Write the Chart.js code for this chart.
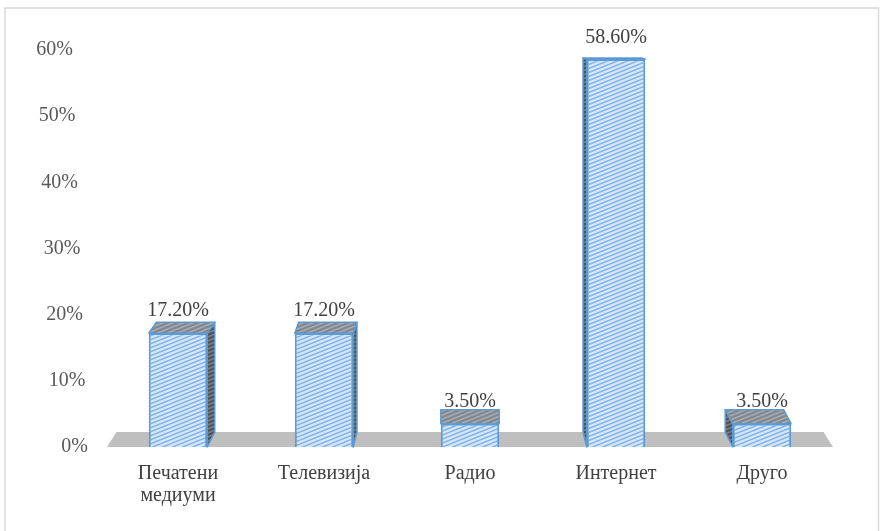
<!DOCTYPE html>
<html>
<head>
<meta charset="utf-8">
<script src="https://cdn.jsdelivr.net/npm/chart.js@4.4.1/dist/chart.umd.min.js"></script>
<style>
  html, body { margin: 0; padding: 0; background: #ffffff; }
  #wrap { width: 880px; height: 531px; position: relative; }
</style>
</head>
<body>
<div id="wrap"><canvas id="c" width="880" height="531"></canvas></div>
<script>
const categories = [['Печатени', 'медиуми'], 'Телевизија', 'Радио', 'Интернет', 'Друго'];
const values = [17.2, 17.2, 3.5, 58.6, 3.5];
const valueLabels = ['17.20%', '17.20%', '3.50%', '58.60%', '3.50%'];
const yTickValues = [0, 10, 20, 30, 40, 50, 60];

function makePattern(bg, line, w, h) {
  const c = document.createElement('canvas');
  c.width = w; c.height = h;
  const g = c.getContext('2d');
  g.fillStyle = bg; g.fillRect(0, 0, w, h);
  g.strokeStyle = line; g.lineWidth = 1.5;
  for (let k = -h; k <= h; k += h) {
    g.beginPath(); g.moveTo(0, h + k); g.lineTo(w, k); g.stroke();
  }
  return g.createPattern(c, 'repeat');
}

const frontPat = makePattern('#d6e7fa', '#7fb1e7', 10, 4);
const sidePat = makePattern('#4e535a', '#7d848d', 10, 4);
const topPat = makePattern('#83878d', '#a9aeb5', 10, 4);

const serif = "'Liberation Serif', 'Times New Roman', serif";
const FS = 20;

const depthPlugin = {
  id: 'depth',
  beforeDraw(chart) {
    const c = chart.ctx;
    c.save();
    c.strokeStyle = '#d9d9d9';
    c.lineWidth = 1.5;
    c.strokeRect(5, 8, 873.5, 530);
    c.restore();
  },
  beforeDatasetsDraw(chart) {
    const c = chart.ctx;
    const a = chart.chartArea;
    const vpX = (a.left + a.right) / 2;
    const vpY = a.top - 30;
    const kx = 0.026, ky = 0.035;
    const dxOf = x => (vpX - x) * kx;
    const dyOf = y => -(y - vpY) * ky;
    const base = chart.scales.y.getPixelForValue(0);
    const fl = a.left + 2, fr = a.right - 2;
    c.save();
    c.fillStyle = '#bfbfbf';
    c.beginPath();
    c.moveTo(fl, base);
    c.lineTo(fr, base);
    c.lineTo(fr + dxOf(fr), base + dyOf(base));
    c.lineTo(fl + dxOf(fl), base + dyOf(base));
    c.closePath();
    c.fill();
    const meta = chart.getDatasetMeta(0);
    meta.data.forEach(bar => {
      const p = bar.getProps(['x', 'y', 'base', 'width'], true);
      const L = p.x - p.width / 2, R = p.x + p.width / 2, T = p.y, B = p.base;
      const dx = dxOf(p.x);
      const dT = dyOf(T), dB = dyOf(B);
      c.lineWidth = 1.5;
      c.strokeStyle = '#5b9bd5';
      c.lineJoin = 'round';
      if (Math.abs(dx) > 0.8) {
        const S = dx > 0 ? R : L;
        c.fillStyle = sidePat;
        c.beginPath();
        c.moveTo(S, T);
        c.lineTo(S + dx, T + dT);
        c.lineTo(S + dx, B + dB);
        c.lineTo(S, B);
        c.closePath();
        c.fill(); c.stroke();
      }
      c.fillStyle = topPat;
      c.beginPath();
      c.moveTo(L, T);
      c.lineTo(R, T);
      c.lineTo(R + dx, T + dT);
      c.lineTo(L + dx, T + dT);
      c.closePath();
      c.fill(); c.stroke();
    });
    c.restore();
  },
  afterDatasetsDraw(chart) {
    const c = chart.ctx;
    const meta = chart.getDatasetMeta(0);
    c.save();
    c.font = FS + 'px ' + serif;
    c.fillStyle = '#404040';
    c.textAlign = 'center';
    c.textBaseline = 'middle';
    meta.data.forEach((bar, i) => {
      const p = bar.getProps(['x', 'y'], true);
      c.fillText(valueLabels[i], p.x, p.y - 22);
    });
    const ys = chart.scales.y;
    c.fillStyle = '#595959';
    c.textAlign = 'right';
    yTickValues.forEach(v => {
      c.fillText(v + '%', 88 - v * 0.25, ys.getPixelForValue(v));
    });
    c.restore();
  }
};

new Chart(document.getElementById('c'), {
  type: 'bar',
  data: {
    labels: categories,
    datasets: [{
      data: values,
      backgroundColor: frontPat,
      borderColor: '#5b9bd5',
      borderWidth: 2,
      categoryPercentage: 1.0,
      barPercentage: 0.4
    }]
  },
  options: {
    responsive: false,
    animation: false,
    devicePixelRatio: 1,
    layout: { padding: { top: 50, right: 45, left: 0, bottom: 0 } },
    plugins: { legend: { display: false }, tooltip: { enabled: false } },
    scales: {
      x: {
        grid: { display: false, drawTicks: false },
        border: { display: false },
        ticks: {
          color: '#404040',
          font: { family: serif, size: FS, lineHeight: 1.1 },
          padding: 16,
          maxRotation: 0,
          autoSkip: false
        },
        afterFit(s) { s.height = 84; }
      },
      y: {
        min: 0, max: 60,
        grid: { display: false, drawTicks: false },
        border: { display: false },
        ticks: { display: false, stepSize: 10 },
        afterFit(s) { s.width = 105; }
      }
    }
  },
  plugins: [depthPlugin]
});
</script>
</body>
</html>
